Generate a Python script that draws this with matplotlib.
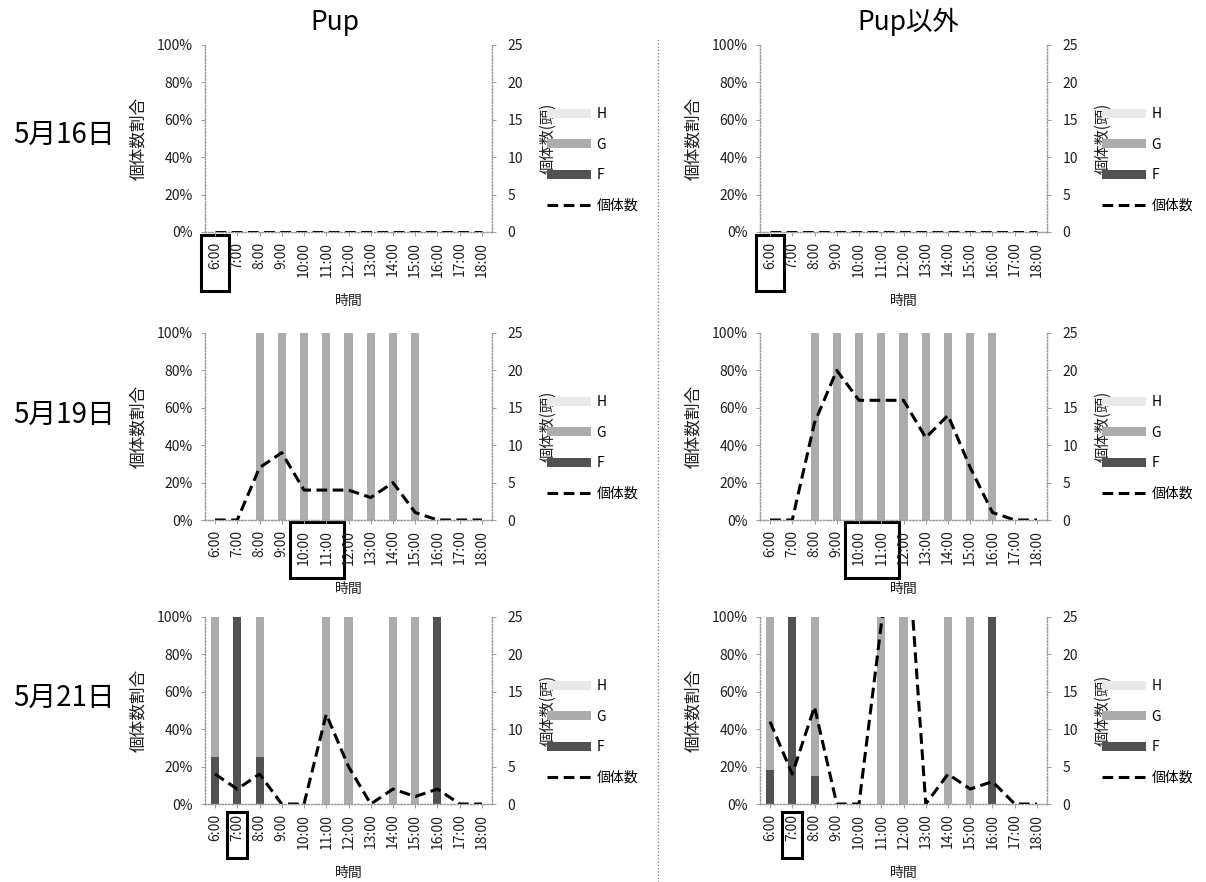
import matplotlib
matplotlib.use('Agg')
import matplotlib.pyplot as plt
from matplotlib.patches import Patch, Rectangle
from matplotlib.lines import Line2D
import matplotlib.transforms as mtransforms

plt.rcParams['font.family'] = ['Noto Sans CJK JP', 'DejaVu Sans']

times = ['6:00', '7:00', '8:00', '9:00', '10:00', '11:00', '12:00',
         '13:00', '14:00', '15:00', '16:00', '17:00', '18:00']
dates = ['5月16日', '5月19日', '5月21日']
groups = ['Pup', 'Pup以外']

# percentages (F, G, H) and counts per panel
pup_0516_F = [0] * 13
pup_0516_G = [0] * 13
pup_0516_H = [0] * 13
pup_0516_n = [0] * 13

oth_0516_F = [0] * 13
oth_0516_G = [0] * 13
oth_0516_H = [0] * 13
oth_0516_n = [0] * 13

pup_0519_F = [0] * 13
pup_0519_G = [0, 0, 100, 100, 100, 100, 100, 100, 100, 100, 0, 0, 0]
pup_0519_H = [0] * 13
pup_0519_n = [0, 0, 7, 9, 4, 4, 4, 3, 5, 1, 0, 0, 0]

oth_0519_F = [0] * 13
oth_0519_G = [0, 0, 100, 100, 100, 100, 100, 100, 100, 100, 100, 0, 0]
oth_0519_H = [0] * 13
oth_0519_n = [0, 0, 13, 20, 16, 16, 16, 11, 14, 7, 1, 0, 0]

pup_0521_F = [25, 100, 25, 0, 0, 0, 0, 0, 0, 0, 100, 0, 0]
pup_0521_G = [75, 0, 75, 0, 0, 100, 100, 0, 100, 100, 0, 0, 0]
pup_0521_H = [0] * 13
pup_0521_n = [4, 2, 4, 0, 0, 12, 5, 0, 2, 1, 2, 0, 0]

oth_0521_F = [18, 100, 15, 0, 0, 0, 0, 0, 0, 0, 100, 0, 0]
oth_0521_G = [82, 0, 85, 0, 0, 100, 100, 0, 100, 100, 0, 0, 0]
oth_0521_H = [0] * 13
oth_0521_n = [11, 4, 13, 0, 0, 24, 43, 0, 4, 2, 3, 0, 0]

panels = [
    [(pup_0516_F, pup_0516_G, pup_0516_H, pup_0516_n),
     (oth_0516_F, oth_0516_G, oth_0516_H, oth_0516_n)],
    [(pup_0519_F, pup_0519_G, pup_0519_H, pup_0519_n),
     (oth_0519_F, oth_0519_G, oth_0519_H, oth_0519_n)],
    [(pup_0521_F, pup_0521_G, pup_0521_H, pup_0521_n),
     (oth_0521_F, oth_0521_G, oth_0521_H, oth_0521_n)],
]
# highlighted (boxed) tick labels per date: first & last category index
highlight = [(0, 0), (4, 5), (1, 1)]

# box styling (left pad, right pad, top y, bottom y in axes frac)
box_geom = [(0.62, 0.62, -0.016, -0.317),
            (0.62, 0.8, -0.011, -0.31),
            (0.45, 0.45, -0.043, -0.29)]

colF, colG, colH = '#525252', '#acacac', '#e9e9e9'
spine_col = '#9a9a9a'
txt_col = '#1e1e1e'

W, H = 1206, 882
fig = plt.figure(figsize=(W / 100, H / 100), dpi=100)

col_x = [205, 760]
ax_w = 287
row_top = [45, 333, 617]
ax_h = 187

x = list(range(len(times)))
dash = (0, (3.5, 1.8))
for r in range(3):
    for c in range(2):
        F, G, Hh, n = panels[r][c]
        left = col_x[c] / W
        bottom = 1 - (row_top[r] + ax_h) / H
        ax = fig.add_axes([left, bottom, ax_w / W, ax_h / H])
        ax2 = ax.twinx()
        ax.bar(x, F, width=0.36, color=colF, zorder=2)
        ax.bar(x, G, width=0.36, bottom=F, color=colG, zorder=2)
        FG = [a + b for a, b in zip(F, G)]
        ax.bar(x, Hh, width=0.36, bottom=FG, color=colH, zorder=2)
        ax2.plot(x, n, color='black', lw=2.2, linestyle=dash)
        ax.set_ylim(0, 100)
        ax2.set_ylim(0, 25)
        ax.set_xlim(-0.45, 12.45)
        ax.set_yticks(range(0, 101, 20))
        ax.set_yticklabels([f'{v}%' for v in range(0, 101, 20)])
        ax2.set_yticks(range(0, 26, 5))
        ax.set_xticks(x)
        ax.set_xticklabels(times, rotation=90)
        for a in (ax, ax2):
            for s in a.spines.values():
                s.set_color(spine_col)
                s.set_linestyle(':')
                s.set_linewidth(0.9)
            a.spines['top'].set_visible(False)
            a.tick_params(labelcolor=txt_col, labelsize=10, length=3,
                          width=0.7, color=spine_col)
        ax.tick_params(axis='y', pad=6)
        ax.tick_params(axis='x', pad=4)
        ax2.tick_params(axis='y', pad=8)
        ax.set_xlabel('時間', fontsize=10, color=txt_col)
        ax.xaxis.set_label_coords(0.5, -0.33)
        ax.set_ylabel('個体数割合', fontsize=12, color=txt_col)
        ax.yaxis.set_label_coords(-0.20, 0.5)
        ax2.set_ylabel('個体数(頭)', fontsize=11, color=txt_col,
                       rotation=90)
        ax2.yaxis.set_label_coords(1.165, 0.5)

        h0, h1 = highlight[r]
        pl, pr, yt, yb = box_geom[r]
        trans = mtransforms.blended_transform_factory(ax.transData, ax.transAxes)
        rect = Rectangle((h0 - pl, yb), (h1 - h0) + pl + pr, yt - yb,
                         transform=trans, fill=False, edgecolor='black',
                         lw=2.2, clip_on=False)
        ax.add_patch(rect)

        handles = [Patch(facecolor=colH, edgecolor='none'),
                   Patch(facecolor=colG, edgecolor='none'),
                   Patch(facecolor=colF, edgecolor='none'),
                   Line2D([], [], color='black', lw=2.2, linestyle=dash)]
        ax2.legend(handles, ['H', 'G', 'F', '個体数'], loc='center left',
                   bbox_to_anchor=(1.19, 0.385), frameon=False,
                   borderaxespad=0, borderpad=0, handlelength=3.2,
                   handleheight=0.6, handletextpad=0.4, labelspacing=1.2,
                   fontsize=10)
        ax2.set_zorder(ax.get_zorder() + 1)

# column titles
fig.text(335 / W, 1 - 22 / H, groups[0], fontsize=19, ha='center', va='center')
fig.text(908 / W, 1 - 22 / H, groups[1], fontsize=19, ha='center', va='center')
# row labels
for r, yc in enumerate([135, 415, 698]):
    fig.text(64 / W, 1 - yc / H, dates[r], fontsize=20, ha='center',
             va='center')
# divider
fig.add_artist(Line2D([658 / W, 658 / W], [0, 1 - 38 / H], color='#777777',
                      lw=0.9, linestyle=':', transform=fig.transFigure))

fig.savefig('out.png', dpi=100, facecolor='white')
